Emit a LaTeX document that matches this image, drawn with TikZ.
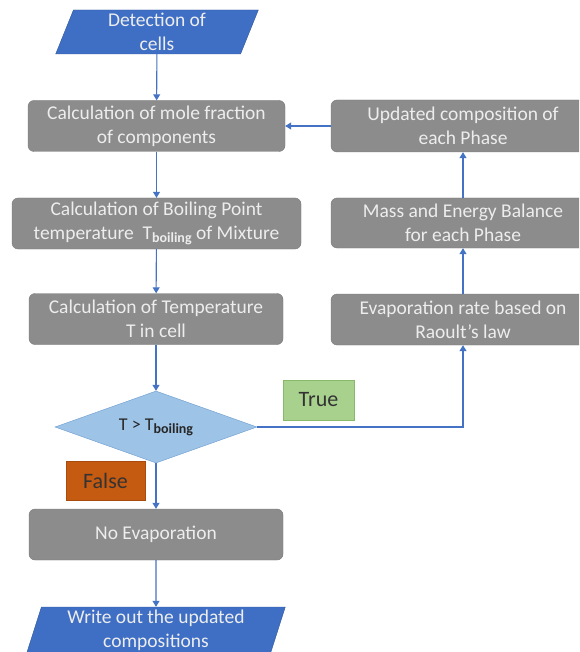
\documentclass[tikz,border=0pt]{standalone}
\usepackage{fontspec}
\setmainfont{Carlito}
\usepackage{xcolor}
\usetikzlibrary{shapes.geometric,arrows.meta,positioning,calc}

\definecolor{flowblue}{HTML}{4472C4}
\definecolor{parablue}{HTML}{3F6FC5}
\definecolor{paraedge}{HTML}{2F5597}
\definecolor{boxgray}{HTML}{8C8C8C}
\definecolor{boxedge}{HTML}{787878}
\definecolor{boxtext}{HTML}{EDEDED}
\definecolor{decfill}{HTML}{9DC3E6}
\definecolor{decedge}{HTML}{6A9BD0}
\definecolor{truefill}{HTML}{A9D18E}
\definecolor{trueedge}{HTML}{86B96A}
\definecolor{falsefill}{HTML}{C55A11}
\definecolor{falseedge}{HTML}{A84B0E}

\newcommand{\sbs}[1]{\raisebox{-0.35ex}{\fontsize{14}{14}\selectfont\bfseries #1}}

\begin{document}
\begin{tikzpicture}[x=1pt,y=-1pt,
  font=\fontsize{19.5}{24}\selectfont,
  procbox/.style={rectangle,rounded corners=6pt,fill=boxgray,draw=boxedge,
    text=boxtext,align=center,minimum height=51pt,inner sep=2pt},
  iobox/.style={trapezium,trapezium left angle=75,trapezium right angle=105,
    trapezium stretches=true,fill=parablue,draw=paraedge,text=boxtext,
    align=center,inner sep=1pt},
  decbox/.style={diamond,aspect=2.8,fill=decfill,draw=decedge,text=black!85,
    minimum width=202pt,minimum height=72pt,inner sep=0pt,
    font=\fontsize{18}{22}\selectfont},
  tagbox/.style={rectangle,text=black!80,font=\fontsize{22}{24}\selectfont},
  flow/.style={draw=flowblue,line width=1.1pt,-{Triangle[width=7pt,length=6pt]}}]
\useasboundingbox (0,0) rectangle (579,652);
\clip (0,0) rectangle (579,652);

% Main column
\node[iobox,minimum width=203pt,minimum height=44pt] (detect) at (157,32) {Detection of\\cells};
\node[procbox,minimum width=257pt] (molefrac) at (156.5,126) {Calculation of mole fraction\\of components};
\node[procbox,minimum width=289pt] (boiling) at (156.5,223.5) {Calculation of Boiling Point\\temperature \ T\sbs{boiling} of Mixture};
\node[procbox,minimum width=254pt] (temp) at (156,319) {Calculation of Temperature\\T in cell};
\node[decbox] (check) at (156,427) {T > T\sbs{boiling}};
\node[procbox,minimum width=254pt] (noevap) at (156,534.5) {No Evaporation};
\node[iobox,minimum width=259pt,minimum height=46pt] (writeout) at (156,630) {Write out the updated\\compositions};

% Right column
\node[procbox,minimum width=264pt,minimum height=52pt] (update) at (463,126) {Updated composition of\\each Phase};
\node[procbox,minimum width=264pt,minimum height=50pt] (balance) at (463,223) {Mass and Energy Balance\\for each Phase};
\node[procbox,minimum width=264pt] (evaprate) at (463,319.5) {Evaporation rate based on\\Raoult's law};

% Branch labels
\node[tagbox,fill=truefill,draw=trueedge,minimum width=71pt,minimum height=40pt] (truetag) at (318.5,400) {True};
\node[tagbox,fill=falsefill,draw=falseedge,minimum width=79pt,minimum height=39pt] (falsetag) at (105.5,480.5) {False};

% Connectors
\draw[flow] (detect) -- (molefrac);
\draw[flow] (molefrac) -- (boiling);
\draw[flow] (boiling) -- (temp);
\draw[flow] (temp) -- (check);
\draw[flow] (check) -- (noevap);
\draw[flow] (noevap) -- (writeout);
\draw[flow] (check.east) -| (evaprate.south);
\draw[flow] (evaprate) -- (balance);
\draw[flow] (balance) -- (update);
\draw[flow] (update) -- (molefrac);
\end{tikzpicture}
\end{document}
